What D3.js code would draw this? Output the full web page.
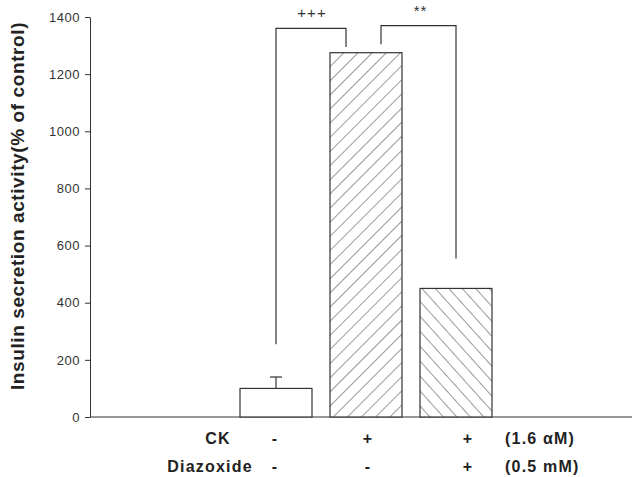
<!DOCTYPE html>
<html><head><meta charset="utf-8">
<script src="https://cdn.jsdelivr.net/npm/d3@7"></script>
<style>body{margin:0;background:#fff}svg{display:block}</style>
</head><body>
<svg id="c" width="632" height="477"></svg>
<script>
const categories = ["control", "CK", "CK+Diazoxide"];
const values = [100, 1275, 450];
const errors = [40, 0, 0];
const patterns = ["none", "fwd", "back"];
const yTicks = [0, 200, 400, 600, 800, 1000, 1200, 1400];
const ckLabels = ["-", "+", "+"];
const diazLabels = ["-", "-", "+"];
const ckUnit = "(1.6 \u03b1M)";
const diazUnit = "(0.5 mM)";
const yTitle = "Insulin secretion activity(% of control)";
// brackets: left/right category, top value, bottom values of each leg, label, leg offsets
const brackets = [
  {a: 0, b: 1, top: 1360, la: 255, lb: 1295, label: "+++", oa: 0, ob: -20},
  {a: 1, b: 2, top: 1370, la: 1305, lb: 555, label: "**", oa: 15, ob: 0}
];

const svg = d3.select("#c");
const y = d3.scaleLinear().domain([0, 1400]).range([417, 17]);
const x = d3.scaleBand().domain(categories).range([231, 501]).paddingInner(0.2).paddingOuter(0.1);
const ink = "#333";
const font = "Liberation Sans, Arial, sans-serif";

const defs = svg.append("defs");
const p1 = defs.append("pattern").attr("id", "fwd").attr("patternUnits", "userSpaceOnUse")
  .attr("width", 10).attr("height", 10).attr("patternTransform", "rotate(45)");
p1.append("rect").attr("width", 10).attr("height", 10).attr("fill", "#fff");
p1.append("line").attr("x1", 0).attr("y1", 0).attr("x2", 0).attr("y2", 10).attr("stroke", "#555").attr("stroke-width", 1.2);
const p2 = defs.append("pattern").attr("id", "back").attr("patternUnits", "userSpaceOnUse")
  .attr("width", 10).attr("height", 10).attr("patternTransform", "rotate(-42)");
p2.append("rect").attr("width", 10).attr("height", 10).attr("fill", "#fff");
p2.append("line").attr("x1", 0).attr("y1", 0).attr("x2", 0).attr("y2", 10).attr("stroke", "#555").attr("stroke-width", 1.2);

// y axis
const yAxis = d3.axisLeft(y).tickValues(yTicks).tickFormat(d3.format("d")).tickSize(5).tickPadding(5).tickSizeOuter(0);
const gy = svg.append("g").attr("transform", "translate(90,0)").call(yAxis);
gy.select(".domain").attr("stroke", ink);
gy.selectAll(".tick line").attr("stroke", ink);
gy.selectAll(".tick text").attr("font-family", font).attr("font-size", 13).attr("letter-spacing", 0.5).attr("fill", "#333");

// x axis line
svg.append("line").attr("x1", 90).attr("x2", 632).attr("y1", y(0)).attr("y2", y(0)).attr("stroke", ink).attr("stroke-width", 1.2);

// bars
svg.selectAll("rect.bar").data(categories).join("rect").attr("class", "bar")
  .attr("x", d => x(d)).attr("width", x.bandwidth())
  .attr("y", (d, i) => y(values[i])).attr("height", (d, i) => y(0) - y(values[i]))
  .attr("fill", (d, i) => patterns[i] === "none" ? "#fff" : `url(#${patterns[i]})`)
  .attr("stroke", ink).attr("stroke-width", 1.2);

// error bars
categories.forEach((c, i) => {
  if (!errors[i]) return;
  const cx = x(c) + x.bandwidth() / 2;
  svg.append("line").attr("x1", cx).attr("x2", cx).attr("y1", y(values[i])).attr("y2", y(values[i] + errors[i])).attr("stroke", ink).attr("stroke-width", 1.2);
  svg.append("line").attr("x1", cx - 6).attr("x2", cx + 6).attr("y1", y(values[i] + errors[i])).attr("y2", y(values[i] + errors[i])).attr("stroke", ink).attr("stroke-width", 1.2);
});

// brackets
brackets.forEach(b => {
  const xa = x(categories[b.a]) + x.bandwidth() / 2 + b.oa;
  const xb = x(categories[b.b]) + x.bandwidth() / 2 + b.ob;
  svg.append("path").attr("d", `M${xa},${y(b.la)}V${y(b.top)}H${xb}V${y(b.lb)}`)
    .attr("fill", "none").attr("stroke", ink).attr("stroke-width", 1.2);
  svg.append("text").attr("x", (xa + xb) / 2 + (b.label === "**" ? 2 : 1)).attr("y", y(b.top) - 10)
    .attr("text-anchor", "middle").attr("font-family", font)
    .attr("font-size", 15).attr("letter-spacing", 1).attr("fill", "#333").text(b.label);
});

// y title
svg.append("text").attr("transform", "translate(24,206) rotate(-90)")
  .attr("text-anchor", "middle").attr("font-family", font)
  .attr("font-weight", "bold").attr("font-size", 19).attr("letter-spacing", 0.6).attr("fill", "#222").text(yTitle);

// bottom labels
const markX = [275, 368, 468];
function lab(xp, yp, t, anchor) {
  svg.append("text").attr("x", xp).attr("y", yp).attr("text-anchor", anchor || "middle")
    .attr("font-family", font).attr("font-weight", "bold").attr("font-size", 16)
    .attr("letter-spacing", 1.2).attr("fill", "#222").text(t);
}
lab(218, 444, "CK");
lab(210, 472, "Diazoxide");
ckLabels.forEach((t, i) => lab(markX[i], 444, t));
diazLabels.forEach((t, i) => lab(markX[i], 472, t));
lab(505, 444, ckUnit, "start");
lab(505, 472, diazUnit, "start");
</script>
</body></html>
